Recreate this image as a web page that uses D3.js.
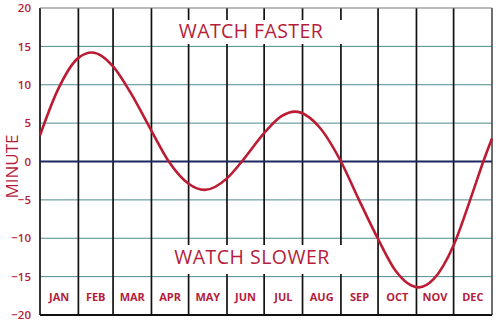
<!DOCTYPE html>
<html>
<head>
<meta charset="utf-8">
<script src="https://cdn.jsdelivr.net/npm/d3@7"></script>
<style>
  body { margin: 0; background: #fff; }
  svg { display: block; }
</style>
</head>
<body>
<div id="chart"></div>
<script>
// month names along the bottom
const months = ["JAN", "FEB", "MAR", "APR", "MAY", "JUN", "JUL", "AUG", "SEP", "OCT", "NOV", "DEC"];
// y axis ticks (minutes)
const yTicks = [-20, -15, -10, -5, 0, 5, 10, 15, 20];
// curve points (month-day, minutes)
const curveDates = ["01-01", "01-15", "02-01", "02-12", "03-01", "03-15", "04-01", "04-15",
                    "05-01", "05-14", "06-01", "06-13", "07-01", "07-15", "07-26", "08-15",
                    "09-01", "09-15", "10-01", "10-15", "11-03", "11-15", "12-01", "12-15",
                    "12-25", "12-31"];
const curveMinutes = [3.4, 9.2, 13.5, 14.2, 12.4, 9.0, 4.0, 0.0,
                      -2.9, -3.7, -2.2, 0.0, 3.7, 5.9, 6.5, 4.4,
                      0.0, -4.8, -10.1, -14.2, -16.4, -15.3, -10.9, -4.7,
                      0.0, 3.0];

const W = 500, H = 323;
const margin = {top: 8, right: 8, bottom: 8, left: 40};
const red = "#b51d3b";

const svg = d3.select("#chart").append("svg")
    .attr("width", W)
    .attr("height", H);

const parseDay = d3.timeParse("%Y-%m-%d");
const x = d3.scaleTime()
    .domain([parseDay("2023-01-01"), parseDay("2024-01-01")])
    .range([margin.left, W - margin.right]);

const y = d3.scaleLinear()
    .domain([-20, 20])
    .range([H - margin.bottom, margin.top]);

// horizontal grid
svg.append("g")
    .selectAll("line")
    .data(yTicks.filter(v => v !== 0 && Math.abs(v) !== 20))
    .enter().append("line")
    .attr("x1", margin.left).attr("x2", W - margin.right)
    .attr("y1", d => y(d)).attr("y2", d => y(d))
    .attr("stroke", "#4f8a8c")
    .attr("stroke-width", 1);

// month boundaries
const monthStarts = d3.timeMonth.range(parseDay("2023-01-01"), parseDay("2024-01-02"));
svg.append("g")
    .selectAll("line")
    .data(monthStarts)
    .enter().append("line")
    .attr("x1", d => x(d)).attr("x2", d => x(d))
    .attr("y1", y(20)).attr("y2", y(-20))
    .attr("stroke", (d, i) => (i === monthStarts.length - 1) ? "#555" : "#111")
    .attr("stroke-width", 1.7);

// top border
svg.append("line")
    .attr("x1", margin.left).attr("x2", W - margin.right)
    .attr("y1", y(20)).attr("y2", y(20))
    .attr("stroke", "#777").attr("stroke-width", 1.2);

// bottom border
svg.append("line")
    .attr("x1", margin.left).attr("x2", W - margin.right)
    .attr("y1", y(-20)).attr("y2", y(-20))
    .attr("stroke", "#111").attr("stroke-width", 2);

// zero line
svg.append("line")
    .attr("x1", margin.left).attr("x2", W - margin.right)
    .attr("y1", y(0)).attr("y2", y(0))
    .attr("stroke", "#1c2660").attr("stroke-width", 2);

// white boxes behind the captions
svg.append("rect")
    .attr("x", 168).attr("y", 20).attr("width", 182).attr("height", 24)
    .attr("fill", "#fff");
svg.append("rect")
    .attr("x", 168).attr("y", 245).attr("width", 182).attr("height", 29)
    .attr("fill", "#fff");

// curve
const pts = curveDates.map((d, i) => ({date: parseDay("2023-" + d), v: curveMinutes[i]}));
pts[pts.length - 1].date = parseDay("2024-01-01");
const line = d3.line()
    .x(d => x(d.date))
    .y(d => y(d.v))
    .curve(d3.curveMonotoneX);

svg.append("path")
    .datum(pts)
    .attr("d", line)
    .attr("fill", "none")
    .attr("stroke", "#bb1c33")
    .attr("stroke-width", 2.6);

// captions
svg.append("text")
    .attr("x", 251).attr("y", 38)
    .attr("text-anchor", "middle")
    .attr("fill", red)
    .style("font-family", "'Open Sans', sans-serif")
    .style("font-size", "19.5px")
    .style("letter-spacing", "0.4px")
    .text("WATCH FASTER");

svg.append("text")
    .attr("x", 252).attr("y", 264)
    .attr("text-anchor", "middle")
    .attr("fill", red)
    .style("font-family", "'Open Sans', sans-serif")
    .style("font-size", "19.5px")
    .style("letter-spacing", "0.5px")
    .text("WATCH SLOWER");

// month labels
svg.append("g")
    .selectAll("text")
    .data(months)
    .enter().append("text")
    .attr("x", (d, i) => (x(monthStarts[i]) + x(monthStarts[i + 1])) / 2)
    .attr("y", 301)
    .attr("text-anchor", "middle")
    .attr("fill", red)
    .style("font-family", "'Open Sans', sans-serif")
    .style("font-weight", "bold")
    .style("font-size", "11px")
    .text(d => d);

// y axis labels
const yAxis = svg.append("g")
    .attr("transform", `translate(${margin.left},0)`)
    .call(d3.axisLeft(y).tickValues(yTicks).tickSize(0).tickPadding(9));
yAxis.select(".domain").remove();
yAxis.selectAll("text")
    .attr("fill", red)
    .style("font-family", "'Open Sans', sans-serif")
    .style("font-size", "11.5px")
    .style("font-weight", "600");

// axis title
svg.append("text")
    .attr("transform", `translate(18,${y(0) + 5}) rotate(-90)`)
    .attr("text-anchor", "middle")
    .attr("fill", red)
    .style("font-family", "'Open Sans', sans-serif")
    .style("font-size", "17px")
    .text("MINUTE");
</script>
</body>
</html>
